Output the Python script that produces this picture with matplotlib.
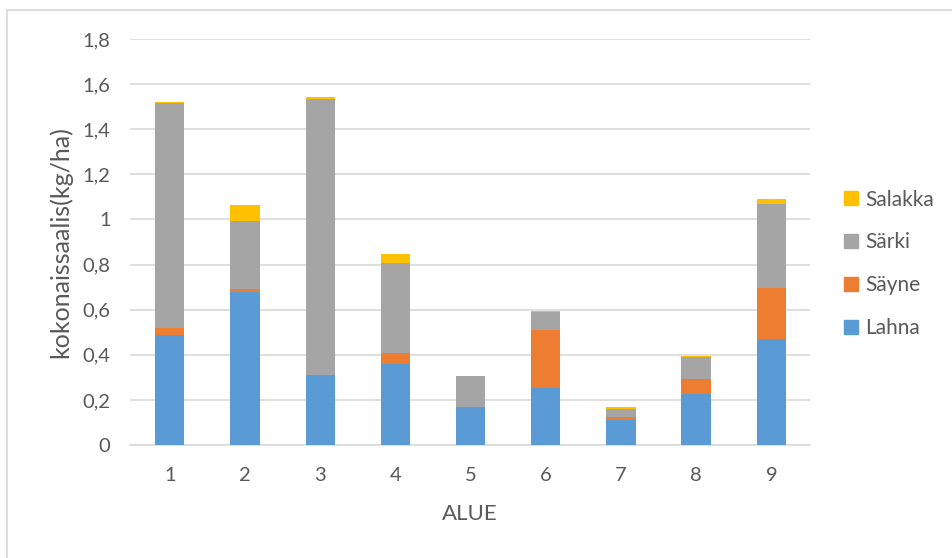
import matplotlib
matplotlib.use("Agg")
import matplotlib.pyplot as plt
from matplotlib.lines import Line2D
import numpy as np

# values (kg/ha)
alue = ["1", "2", "3", "4", "5", "6", "7", "8", "9"]
lahna = [0.486, 0.679, 0.310, 0.361, 0.167, 0.253, 0.111, 0.225, 0.469]
sayne = [0.033, 0.013, 0.000, 0.046, 0.000, 0.256, 0.012, 0.068, 0.229]
sarki = [0.996, 0.301, 1.226, 0.399, 0.138, 0.081, 0.038, 0.097, 0.369]
salakka = [0.007, 0.069, 0.006, 0.040, 0.000, 0.006, 0.006, 0.006, 0.022]

series = [("Lahna", lahna, "#5B9BD5"),
          ("Säyne", sayne, "#ED7D31"),
          ("Särki", sarki, "#A5A5A5"),
          ("Salakka", salakka, "#FFC000")]

yticks = [0, 0.2, 0.4, 0.6, 0.8, 1.0, 1.2, 1.4, 1.6, 1.8]
ylabels = ["0", "0,2", "0,4", "0,6", "0,8", "1", "1,2", "1,4", "1,6", "1,8"]

plt.rcParams['font.family'] = ['Lato', 'DejaVu Sans']
txt = "#595959"

fig = plt.figure(figsize=(9.53, 5.58), dpi=100)
ax = fig.add_axes([0.1364, 0.2025, 0.714, 0.7275])

x = np.arange(1, len(alue) + 1)
bottom = np.zeros(len(alue))
handles = []
for name, vals, col in series:
    ax.bar(x, vals, width=0.39, bottom=bottom, color=col, zorder=3)
    bottom += np.array(vals)
    handles.append((name, col))

ax.set_xlim(0.47, 9.52)
ax.set_ylim(0, 1.8)
ax.set_yticks(yticks)
ax.set_yticklabels(ylabels)
ax.set_xticks(x)
ax.set_xticklabels(alue)
ax.grid(axis="y", color="#d9d9d9", linewidth=1.2, zorder=0)
for s in ["top", "right", "left"]:
    ax.spines[s].set_visible(False)
ax.spines["bottom"].set_color("#d9d9d9")
ax.spines["bottom"].set_linewidth(1.2)
ax.tick_params(axis="both", length=0, labelsize=14.5, colors=txt)
ax.tick_params(axis="y", pad=14)
ax.tick_params(axis="x", pad=16)

ax.set_ylabel("kokonaissaalis(kg/ha)", fontsize=18, color=txt)
ax.yaxis.set_label_coords(-0.085, 0.5)
ax.set_xlabel("ALUE", fontsize=16, color=txt)
ax.xaxis.set_label_coords(0.5, -0.145)

# legend, top entry first as in the reference
leg_handles = [Line2D([0], [0], marker="s", linestyle="", markersize=10,
                      markerfacecolor=c, markeredgecolor=c) for _, c in handles[::-1]]
leg_labels = [n for n, _ in handles[::-1]]
fig.legend(leg_handles, leg_labels, loc="center left",
           bbox_to_anchor=(0.862, 0.527), frameon=False, fontsize=15,
           labelcolor=txt, labelspacing=1.1, handletextpad=0.2, handlelength=1.0)

# chart-area border (top and left edges visible in the reference)
fig.add_artist(Line2D([0.0073, 1.0], [0.982, 0.982], color="#d9d9d9", linewidth=1.2))
fig.add_artist(Line2D([0.0073, 0.0073], [0.0, 0.982], color="#d9d9d9", linewidth=1.2))

fig.savefig("out.png", dpi=100)
